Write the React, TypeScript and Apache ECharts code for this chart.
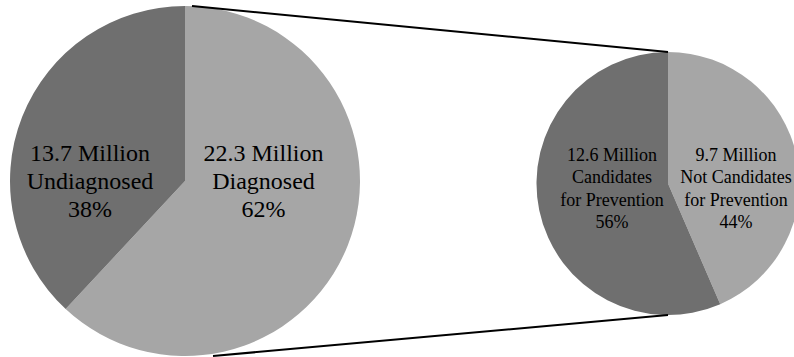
import React, { useEffect, useRef } from "react";
import * as echarts from "echarts";

// Total population split by diagnosis status (millions)
const totalNames = ["Diagnosed", "Undiagnosed"];
const totalValues = [22.3, 13.7];
const totalPercents = [62, 38];

// Diagnosed population split by prevention candidacy (millions)
const diagnosedNames = ["Not Candidates\nfor Prevention", "Candidates\nfor Prevention"];
const diagnosedValues = [9.7, 12.6];
const diagnosedPercents = [44, 56];

const LIGHT = "#a6a6a6";
const DARK = "#6f6f6f";
const FONT = "Liberation Serif";

// Pie geometry
const BIG = { cx: 185, cy: 181, r: 175 };
const SMALL = { cx: 668, cy: 183.5, r: 131.5 };

// Label block centres for each slice
const bigLabelPos = [
  [263.5, 181],
  [90, 181],
];
const smallLabelPos = [
  [736, 188.5],
  [612, 188.5],
];

export default function App() {
  const ref = useRef<HTMLDivElement>(null);

  useEffect(() => {
    document.body.style.margin = "0";
    if (!ref.current) return;
    const chart = echarts.init(ref.current, undefined, { renderer: "svg" });

    const bigData = totalNames.map((n, i) => ({
      name: n,
      value: totalValues[i],
      itemStyle: { color: i === 0 ? LIGHT : DARK },
    }));
    const smallData = diagnosedNames.map((n, i) => ({
      name: n,
      value: diagnosedValues[i],
      itemStyle: { color: i === 0 ? LIGHT : DARK },
    }));

    chart.setOption({
      animation: false,
      backgroundColor: "#ffffff",
      series: [
        {
          type: "pie",
          silent: true,
          center: [BIG.cx, BIG.cy],
          radius: BIG.r,
          startAngle: 90,
          clockwise: true,
          data: bigData,
          label: {
            show: true,
            position: "inside",
            fontFamily: FONT,
            fontSize: 24,
            lineHeight: 28.3,
            color: "#000000",
            align: "center",
            formatter: (p: any) =>
              `${p.value} Million\n${p.name}\n${totalPercents[p.dataIndex]}%`,
          },
          labelLine: { show: false },
          labelLayout: (p: any) => ({
            x: bigLabelPos[p.dataIndex][0],
            y: bigLabelPos[p.dataIndex][1],
            align: "center",
            verticalAlign: "middle",
          }),
        },
        {
          type: "pie",
          silent: true,
          center: [SMALL.cx, SMALL.cy],
          radius: SMALL.r,
          startAngle: 90,
          clockwise: true,
          data: smallData,
          label: {
            show: true,
            position: "inside",
            fontFamily: FONT,
            fontSize: 18,
            lineHeight: 22.3,
            color: "#000000",
            align: "center",
            formatter: (p: any) =>
              `${p.value} Million\n${p.name}\n${diagnosedPercents[p.dataIndex]}%`,
          },
          labelLine: { show: false },
          labelLayout: (p: any) => ({
            x: smallLabelPos[p.dataIndex][0],
            y: smallLabelPos[p.dataIndex][1],
            align: "center",
            verticalAlign: "middle",
          }),
        },
      ],
      graphic: [
        {
          type: "line",
          silent: true,
          shape: { x1: 192, y1: 6, x2: SMALL.cx, y2: SMALL.cy - SMALL.r },
          style: { stroke: "#000000", lineWidth: 2 },
          z: 10,
        },
        {
          type: "line",
          silent: true,
          shape: { x1: 213, y1: 356, x2: SMALL.cx, y2: SMALL.cy + SMALL.r },
          style: { stroke: "#000000", lineWidth: 2 },
          z: 10,
        },
      ],
    });

    return () => chart.dispose();
  }, []);

  return <div ref={ref} style={{ width: 794, height: 357 }} />;
}
